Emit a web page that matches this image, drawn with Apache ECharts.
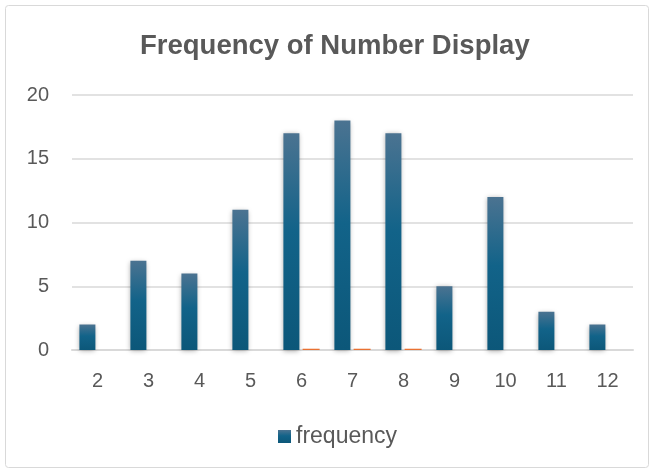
<!DOCTYPE html>
<html>
<head>
<meta charset="utf-8">
<script src="https://cdn.jsdelivr.net/npm/echarts@6/dist/echarts.min.js"></script>
<style>
html,body{margin:0;padding:0;background:#fff;}
#chart{width:654px;height:472px;}
</style>
</head>
<body>
<div id="chart"></div>
<script>
const categories = ['2','3','4','5','6','7','8','9','10','11','12'];
const frequency = [2, 7, 6, 11, 17, 18, 17, 5, 12, 3, 2];
const secondary = [0, 0, 0, 0, 0.1, 0.1, 0.1, 0, 0, 0, 0];
const yTicks = [0, 5, 10, 15, 20];

const chart = echarts.init(document.getElementById('chart'));
const txt = '#595959';
const fontFam = '"Liberation Sans", Arial, sans-serif';
chart.setOption({
  backgroundColor: '#ffffff',
  animation: false,
  graphic: [{
    type: 'rect',
    shape: { x: 5.5, y: 5.5, width: 643, height: 462, r: 3 },
    style: { fill: 'none', stroke: '#d9d9d9', lineWidth: 1 },
    silent: true
  }],
  title: {
    text: 'Frequency of Number Display',
    left: 135,
    top: 27,
    textStyle: { color: txt, fontSize: 27.5, fontWeight: 'bold', fontFamily: fontFam }
  },
  legend: {
    data: ['frequency'],
    top: 420,
    left: 273,
    itemWidth: 13,
    itemHeight: 13,
    itemGap: 6,
    icon: 'rect',
    textStyle: { color: txt, fontSize: 23, fontFamily: fontFam }
  },
  grid: { left: 72, right: 21, top: 95, bottom: 122 },
  xAxis: {
    type: 'category',
    data: categories,
    axisTick: { show: false },
    axisLine: { lineStyle: { color: '#d9d9d9', width: 2 } },
    axisLabel: { color: txt, fontSize: 20, margin: 21, fontFamily: fontFam }
  },
  yAxis: {
    type: 'value',
    min: yTicks[0],
    max: yTicks[yTicks.length - 1],
    interval: 5,
    axisLine: { show: false },
    axisTick: { show: false },
    splitLine: { lineStyle: { color: '#d9d9d9', width: 1.5 } },
    axisLabel: { color: txt, fontSize: 20, margin: 23, fontFamily: fontFam }
  },
  series: [{
    name: 'frequency',
    type: 'bar',
    data: frequency,
    barWidth: 16,
    barGap: '20%',
    itemStyle: {
      color: new echarts.graphic.LinearGradient(0, 0, 0, 1, [
        { offset: 0, color: '#4b7391' },
        { offset: 0.45, color: '#126389' },
        { offset: 1, color: '#0c5779' }
      ]),
      shadowBlur: 5,
      shadowColor: 'rgba(0,0,0,0.35)',
      shadowOffsetY: 1
    }
  }, {
    name: 'series2',
    type: 'bar',
    data: secondary,
    barWidth: 17,
    itemStyle: { color: '#e97132' }
  }]
});
</script>
</body>
</html>
